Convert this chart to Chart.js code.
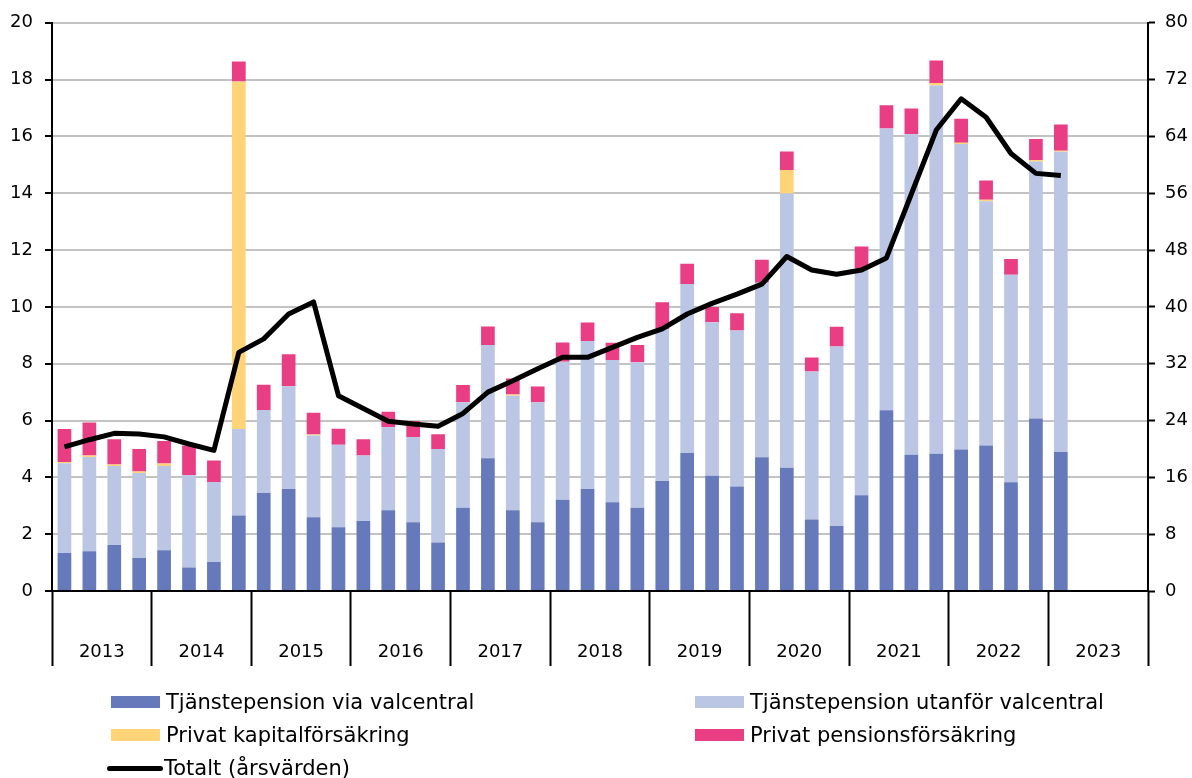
<!DOCTYPE html>
<html><head><meta charset="utf-8">
<script src="https://cdn.jsdelivr.net/npm/chart.js@4.4.0/dist/chart.umd.min.js"></script>
<style>
body{margin:0;background:#fff}
#wrap{position:relative;width:1192px;height:778px}
.lg{position:absolute;font-family:'DejaVu Sans';font-size:21px;color:#000;display:flex;align-items:center;white-space:nowrap;height:24px}
.sw{display:inline-block;flex:none}
</style></head>
<body><div id="wrap"><canvas id="c" width="1192" height="778"></canvas><div id="legend"></div></div>
<script>
const years = ['2013','2014','2015','2016','2017','2018','2019','2020','2021','2022','2023'];
const quarters = ['K1','K2','K3','K4'];

const viaValcentral = [1.34,1.40,1.62,1.16, 1.43,0.83,1.02,2.66, 3.45,3.59,2.60,2.24, 2.46,2.84,2.42,1.71,
  2.93,4.67,2.84,2.42, 3.21,3.59,3.12,2.93, 3.87,4.86,4.06,3.68, 4.71,4.34,2.52,2.29,
  3.37,6.36,4.80,4.83, 4.98,5.12,3.83,6.07, 4.89];
const utanforValcentral = [3.16,3.32,2.78,2.99, 2.97,3.24,2.82,3.04, 2.92,3.62,2.87,2.91, 2.31,2.92,3.00,3.29,
  3.71,3.99,4.03,4.22, 4.86,5.21,5.01,5.12, 5.35,5.95,5.40,5.49, 6.14,9.65,5.21,6.32,
  7.98,9.92,11.28,12.96, 10.75,8.60,7.30,9.05, 10.57];
const kapitalforsakring = [0.04,0.05,0.05,0.06, 0.09,0,0,12.23, 0,0,0.04,0, 0,0,0,0,
  0,0,0.05,0, 0,0,0,0, 0,0,0,0, 0,0.83,0,0,
  0,0,0,0.09, 0.05,0.05,0,0.05, 0.04];
const pensionsforsakring = [1.16,1.16,0.89,0.79, 0.79,1.05,0.75,0.71, 0.89,1.12,0.76,0.56, 0.57,0.55,0.56,0.52,
  0.61,0.65,0.56,0.56, 0.68,0.65,0.61,0.61, 0.94,0.71,0.54,0.61, 0.81,0.65,0.49,0.69,
  0.78,0.82,0.90,0.79, 0.84,0.68,0.56,0.74, 0.92];
const totaltArs = [20.3,21.3,22.2,22.1, 21.7,20.7,19.8,33.6, 35.5,39.0,40.7,27.5, 25.7,23.9,23.5,23.2,
  25.0,28.0,29.6,31.3, 32.9,32.9,34.3,35.7, 36.9,39.0,40.5,41.8, 43.2,47.1,45.2,44.6,
  45.2,46.9,55.9,64.9, 69.3,66.7,61.6,58.8, 58.5];
const leftTicks = {min:0, max:20, step:2};
const rightTicks = {min:0, max:80, step:8};

const categories = [];
years.forEach(y => quarters.forEach(q => categories.push(y + ' ' + q)));

const FONT = {family:'DejaVu Sans', size:18};
const barCommon = {type:'bar', stack:'s', order:1, barPercentage:0.55, categoryPercentage:1.0, yAxisID:'y', borderWidth:0};

const chart = new Chart(document.getElementById('c'), {
  data: {
    labels: categories,
    datasets: [
      Object.assign({label:'Tjänstepension via valcentral', data:viaValcentral, backgroundColor:'#6679BB'}, barCommon),
      Object.assign({label:'Tjänstepension utanför valcentral', data:utanforValcentral, backgroundColor:'#BAC6E4'}, barCommon),
      Object.assign({label:'Privat kapitalförsäkring', data:kapitalforsakring, backgroundColor:'#FFD479'}, barCommon),
      Object.assign({label:'Privat pensionsförsäkring', data:pensionsforsakring, backgroundColor:'#E93E84'}, barCommon),
      {type:'line', label:'Totalt (årsvärden)', data:totaltArs, yAxisID:'y2', order:0, borderColor:'#000', backgroundColor:'#000',
       borderWidth:5, pointRadius:0, tension:0, borderCapStyle:'butt', borderJoinStyle:'round'}
    ]
  },
  options: {
    responsive:false, animation:false, devicePixelRatio:1,
    layout:{padding:{top:22, left:0, right:0, bottom:0}},
    plugins:{legend:{display:false}, tooltip:{enabled:false}},
    scales:{
      x:{
        stacked:true, offset:true,
        grid:{offset:true, drawOnChartArea:false, drawTicks:true, tickLength:75, tickWidth:2,
              tickColor: ctx => (ctx.index === undefined || ctx.index % 4 === 0) ? '#000' : 'rgba(0,0,0,0)'},
        border:{display:true, color:'#000', width:2},
        ticks:{autoSkip:false, maxRotation:0, minRotation:0, padding:-24, labelOffset:12.45, color:'#000', font:FONT,
               callback:(v,i) => i % 4 === 1 ? years[Math.floor(i/4)] : ''},
        afterFit: s => { s.height = 187; }
      },
      y:{
        stacked:true, position:'left', min:leftTicks.min, max:leftTicks.max,
        ticks:{stepSize:leftTicks.step, padding:12, color:'#000', font:FONT},
        grid:{color: ctx => ctx.tick && ctx.tick.value === 0 ? '#000' : '#C3C3C3', lineWidth:2, tickLength:7, tickColor:'#000', tickWidth:2},
        border:{color:'#000', width:2},
        afterFit: s => { s.width = 52; }
      },
      y2:{
        position:'right', min:rightTicks.min, max:rightTicks.max,
        ticks:{stepSize:rightTicks.step, padding:10, color:'#000', font:FONT},
        grid:{drawOnChartArea:false, tickLength:7, tickColor:'#000', tickWidth:2},
        border:{color:'#000', width:2},
        afterFit: s => { s.width = 44; }
      }
    }
  }
});

// HTML legend built from the chart's datasets
const legendSlots = [[111,702],[695,702],[111,735],[695,735],[107,768]];
const lgRoot = document.getElementById('legend');
chart.data.datasets.forEach((ds, i) => {
  const [lx, cy] = legendSlots[i];
  const item = document.createElement('div');
  item.className = 'lg';
  item.style.left = lx + 'px';
  item.style.top = (cy - 12) + 'px';
  const sw = document.createElement('span');
  sw.className = 'sw';
  if (ds.type === 'line') {
    sw.style.width = '56px'; sw.style.height = '5px'; sw.style.background = ds.borderColor;
    sw.style.borderRadius = '3px'; sw.style.marginRight = '1px';
  } else {
    sw.style.width = '49px'; sw.style.height = '12px'; sw.style.background = ds.backgroundColor;
    sw.style.marginRight = '6px';
  }
  const tx = document.createElement('span');
  tx.textContent = ds.label;
  item.appendChild(sw); item.appendChild(tx);
  lgRoot.appendChild(item);
});
</script>
</body></html>
